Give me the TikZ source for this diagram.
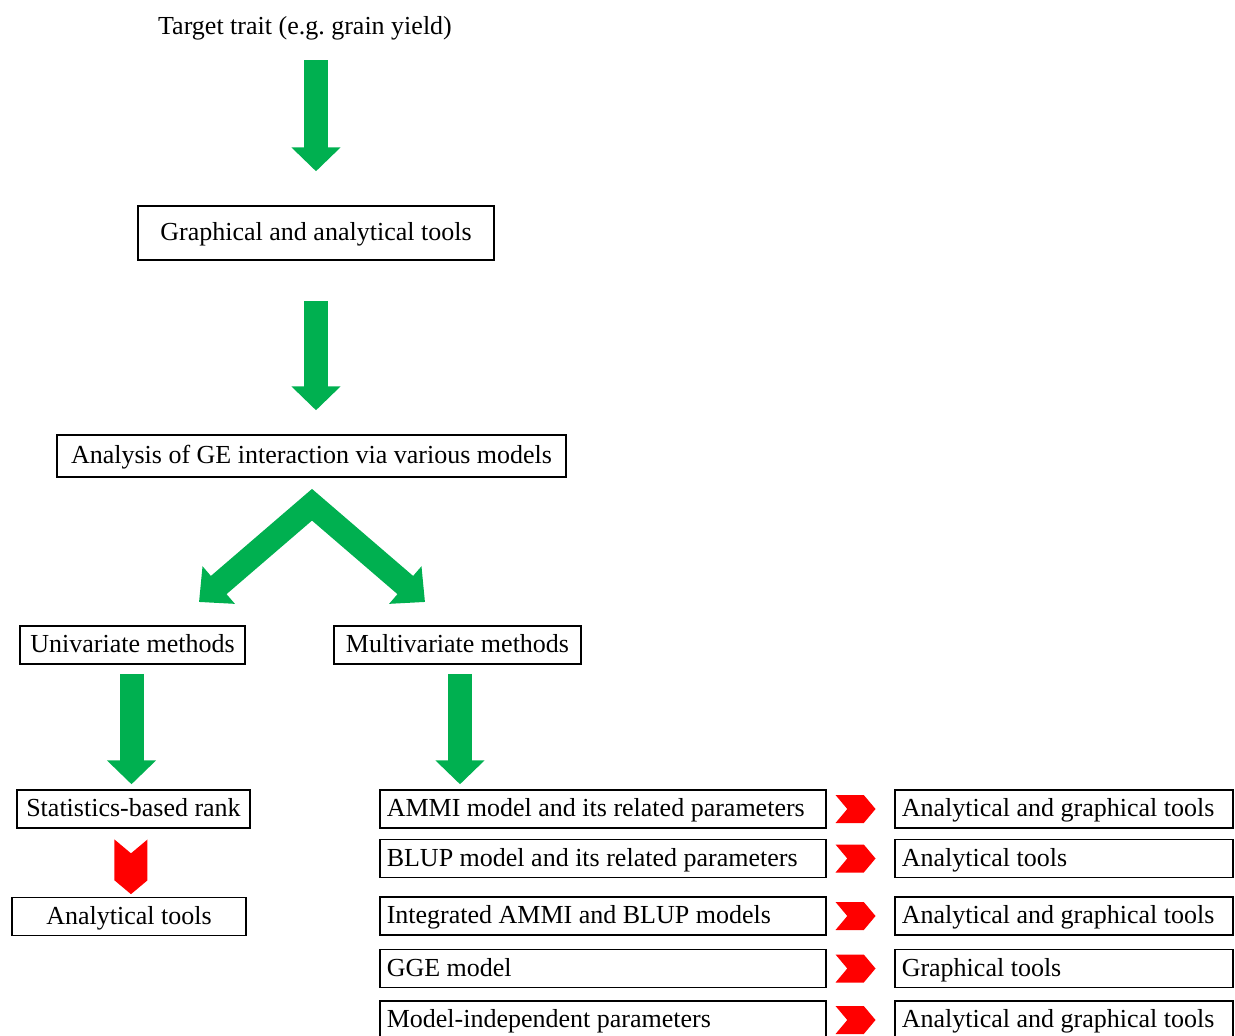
\documentclass[tikz,border=0pt]{standalone}
\usepackage{fontspec}
\setmainfont{Liberation Serif}
\usetikzlibrary{arrows.meta,positioning,calc,shapes.symbols}
\definecolor{flowgreen}{RGB}{0,176,80}
\definecolor{flowred}{RGB}{255,0,0}

\begin{document}
\begin{tikzpicture}[x=1pt, y=-1pt, every node/.style={font=\fontsize{26}{30}\selectfont},
  box/.style={draw, line width=1.5pt, inner sep=0pt, minimum height=38pt, text height=20pt, text depth=5pt},
  lbox/.style={box, anchor=west, inner xsep=7pt, text width=432pt, align=flush left},
  rbox/.style={box, anchor=west, inner xsep=7pt, text width=324pt, align=flush left},
  bigarrow/.style={draw=flowgreen, line width=24pt, -{Triangle[length=24pt,width=48pt]}},
  chevron/.style={shape=signal, fill=flowred, signal to=east, signal from=west,
    minimum width=40pt, minimum height=28pt, inner sep=0pt, signal pointer angle=100}]
\useasboundingbox (0,0) rectangle (1235,1036);
\clip (0,0) rectangle (1235,1036);

\node (trait) at (305,28) {Target trait (e.g.\ grain yield)};
\node[box,minimum width=356pt,minimum height=54pt] (gat) at (316,233) {Graphical and analytical tools};
\node[box,minimum width=509pt,minimum height=42pt] (ge) at (311.5,456) {Analysis of GE interaction via various models};
\node[box,minimum width=225pt] (uni) at (132.5,645) {Univariate methods};
\node[box,minimum width=247pt] (multi) at (457.5,645) {Multivariate methods};
\node[box,minimum width=233pt] (stat) at (133.5,809) {Statistics-based rank};
\node[box,minimum width=234pt] (anl) at (129,916.5) {Analytical tools};

% models and the tools that go with them
\node[lbox] (ammi) at (379,809) {AMMI model and its related parameters};
\node[lbox] (blup) at (379,858.5) {BLUP model and its related parameters};
\node[lbox] (integ) at (379,916) {Integrated AMMI and BLUP models};
\node[lbox] (gge) at (379,968.5) {GGE model};
\node[lbox] (indep) at (379,1020) {Model-independent parameters};
\node[rbox] (ammit) at (894,809) {Analytical and graphical tools};
\node[rbox] (blupt) at (894,858.5) {Analytical tools};
\node[rbox] (integt) at (894,916) {Analytical and graphical tools};
\node[rbox] (gget) at (894,968.5) {Graphical tools};
\node[rbox] (indept) at (894,1020) {Analytical and graphical tools};

\draw[bigarrow] ($(trait.center -| gat.north)+(0,32)$) -- ($(gat.north)+(0,-34)$);
\draw[bigarrow] ($(gat.south)+(0,40)$) -- ($(gat.south |- ge.north)+(0,-24)$);
\coordinate (vtop) at ($(ge.south)+(0.5,27)$);
\coordinate (vleft) at (199,602);
\coordinate (vright) at (425,602);
\draw[bigarrow, {Triangle[length=26pt,width=48pt]}-{Triangle[length=26pt,width=48pt]}, line join=miter]
  (vleft) -- (vtop) -- (vright);
\draw[bigarrow] ($(uni.south)+(-1,9)$) -- ($(uni.south |- stat.north)+(-1,-5)$);
\draw[bigarrow] ($(multi.south)+(2.5,9)$) -- ($(multi.south |- ammi.north)+(2.5,-5)$);

\node[chevron, signal to=south, signal from=north, minimum width=33pt, minimum height=27pt]
  (down) at ($(stat.south)!0.56!(anl.north)$) {};
\node[chevron] (c1) at ($(ammi.east)!0.43!(ammit.west)$) {};
\node[chevron] (c2) at ($(blup.east)!0.43!(blupt.west)$) {};
\node[chevron] (c3) at ($(integ.east)!0.43!(integt.west)$) {};
\node[chevron] (c4) at ($(gge.east)!0.43!(gget.west)$) {};
\node[chevron] (c5) at ($(indep.east)!0.43!(indept.west)$) {};
\end{tikzpicture}
\end{document}
